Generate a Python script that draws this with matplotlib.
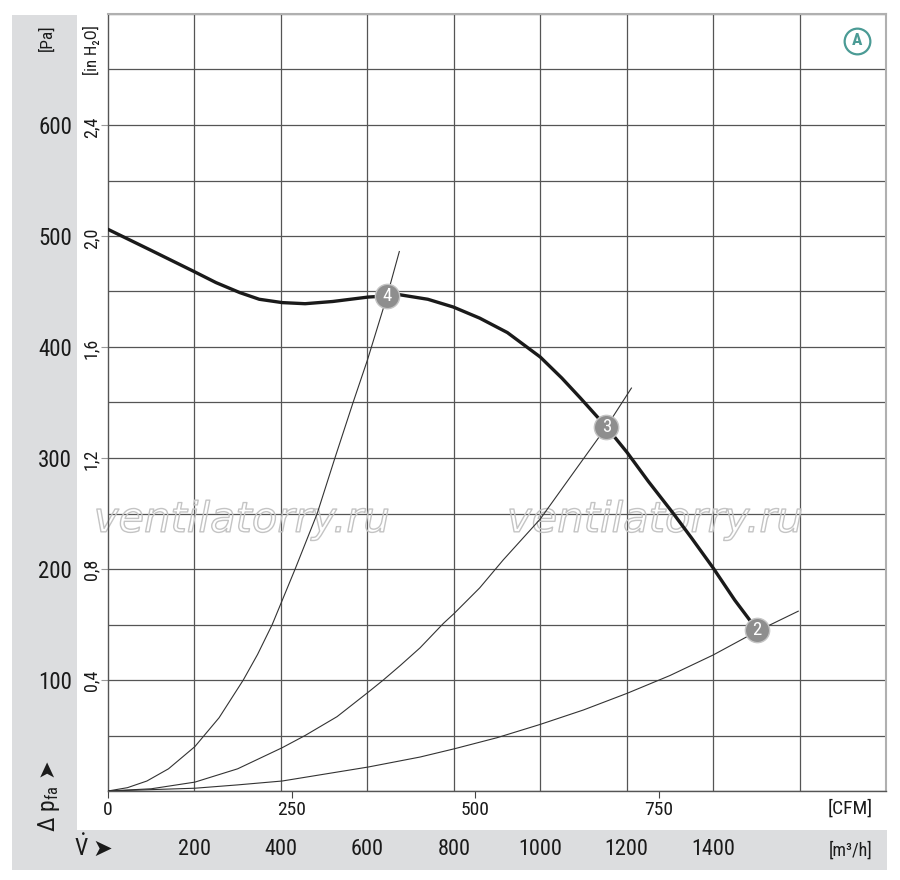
import matplotlib
matplotlib.use("Agg")
import matplotlib.pyplot as plt
import matplotlib.patheffects as pe
from matplotlib import font_manager, transforms
from matplotlib.patches import Rectangle
import numpy as np

# fan curve (m3/h, Pa)
fan_v = [0, 100, 199, 250, 305, 350, 403, 456, 520, 602, 646, 676, 740, 799, 860,
         924, 1000, 1050, 1093, 1153, 1201, 1250, 1308, 1350, 1400, 1450, 1502]
fan_p = [506, 487, 468, 458, 449, 443, 440, 439, 441, 445, 446, 447, 443, 436, 426,
         413, 391, 372, 354, 328, 305, 279, 250, 228, 201, 172, 145]

# system curves
sys4_v = [0, 45, 90, 140, 201, 257, 313, 346, 380, 433, 484, 525, 567, 600, 645, 674]
sys4_p = [0, 3, 9, 20, 40, 66, 100, 123, 150, 200, 250, 300, 350, 388, 445, 486]
sys3_v = [0, 100, 201, 300, 403, 456, 530, 602, 637, 676, 722, 776, 801, 860, 914,
          1000, 1081, 1153, 1211]
sys3_p = [0, 2, 8, 20, 39, 50, 67, 89, 100, 113, 129, 151, 160, 183, 208,
          245, 289, 328, 363]
sys2_v = [0, 201, 300, 403, 602, 722, 801, 900, 1000, 1100, 1201, 1300, 1400, 1502, 1597]
sys2_p = [0, 2.5, 5.5, 9, 21.6, 30.6, 38, 48, 60, 73, 88, 104, 122.5, 144, 162]

# operating points
op_v = [1502, 1153, 645]
op_p = [145, 328, 446]
op_labels = ["2", "3", "4"]

pa_ticks = [100, 200, 300, 400, 500, 600]
inh2o_ticks = [0.4, 0.8, 1.2, 1.6, 2.0, 2.4]
cfm_ticks = [0, 250, 500, 750]
m3h_ticks = [200, 400, 600, 800, 1000, 1200, 1400]

W, H = 900, 880

# look for a narrow face, else fall back
fonts = font_manager.fontManager.ttflist
names = {f.name for f in fonts}
stretch = "normal"
narrow = "Liberation Sans"
for cand in ["Liberation Sans Narrow", "Roboto Condensed", "Open Sans Condensed",
             "DejaVu Sans Condensed"]:
    if cand in names:
        narrow = cand
        break
else:
    if any(f.name == "DejaVu Sans" and f.stretch in ("condensed", 300) for f in fonts):
        narrow = "DejaVu Sans"
        stretch = "condensed"

plt.rcParams["font.family"] = [narrow, "DejaVu Sans"]
plt.rcParams["font.stretch"] = stretch
plt.rcParams["mathtext.fontset"] = "custom"
plt.rcParams["mathtext.rm"] = narrow
plt.rcParams["mathtext.it"] = narrow + ":italic"
plt.rcParams["mathtext.bf"] = narrow + ":bold"

txt = "#1a1a1a"
band = "#dcdddf"
teal = "#4b9b95"

fig = plt.figure(figsize=(W / 100, H / 100), dpi=100)


def fx(x):
    return x / W


def fy(y):
    return 1 - y / H


# grey bands, kept behind everything
fig.patches.append(Rectangle((fx(12), fy(870)), 65 / W, 855 / H, transform=fig.transFigure,
                             facecolor=band, edgecolor="none", zorder=-5))
fig.patches.append(Rectangle((fx(12), fy(870)), 875 / W, 40 / H, transform=fig.transFigure,
                             facecolor=band, edgecolor="none", zorder=-5))

ax = fig.add_axes([fx(108), fy(791), 778 / W, 777 / H])
ax.set_xlim(0, 1800)
ax.set_ylim(0, 700)

# grid
ax.set_xticks(np.arange(0, 1801, 200), minor=True)
ax.set_yticks(np.arange(0, 701, 50), minor=True)
ax.grid(True, which="minor", axis="x", color="#555555", lw=0.9)
ax.grid(True, which="both", axis="y", color="#555555", lw=0.9)
ax.set_axisbelow(True)
ax.tick_params(which="minor", length=0)

# CFM as the main x ticks
ax.set_xticks([c * 1.699 for c in cfm_ticks])
ax.set_xticklabels([str(c) for c in cfm_ticks], fontsize=14, color=txt)
ax.tick_params(axis="x", which="major", direction="out", length=5, width=0.8,
               color="#444444", pad=2.5)

# Pa as the main y ticks
ax.set_yticks(pa_ticks)
ax.set_yticklabels([str(p) for p in pa_ticks], fontsize=16.5, color=txt)
ax.tick_params(axis="y", which="major", direction="out", length=5, width=0.8,
               color="#999999", pad=21)

for s in ["left", "bottom"]:
    ax.spines[s].set_color("#555555")
    ax.spines[s].set_linewidth(1)
for s in ["top", "right"]:
    ax.spines[s].set_color("#b0b0b0")
    ax.spines[s].set_linewidth(1.5)

# watermark
for xa in [0.172, 0.703]:
    ax.text(xa, 0.349, "ventilatorry.ru", transform=ax.transAxes, ha="center", va="center",
            fontsize=30, family="DejaVu Sans", style="oblique", stretch="normal",
            color=(1, 1, 1, 0),
            path_effects=[pe.withStroke(linewidth=1.0, foreground="#c4c4c4")],
            zorder=1, clip_on=False)

# curves
ax.plot(sys4_v, sys4_p, color="#333333", lw=0.8, zorder=3)
ax.plot(sys3_v, sys3_p, color="#333333", lw=0.8, zorder=3)
ax.plot(sys2_v, sys2_p, color="#333333", lw=0.8, zorder=3)
ax.plot(fan_v, fan_p, color="#1a1a1a", lw=2.4, solid_capstyle="round",
        solid_joinstyle="round", zorder=4)

ax.plot(op_v, op_p, "o", ms=17.5, mfc="#8e8e8e", mec="#c4c4c4", mew=1, zorder=5)
for v, p, lab in zip(op_v, op_p, op_labels):
    ax.text(v, p, lab, ha="center", va="center", fontsize=13.5, color="white",
            zorder=6)

# A marker
ax.plot([0.9627], [0.9653], "o", transform=ax.transAxes, ms=18.5, mfc="white",
        mec=teal, mew=1.6, zorder=6, clip_on=False)
ax.text(0.9627, 0.9653, "A", transform=ax.transAxes, ha="center", va="center",
        fontsize=12.5, color=teal, fontweight="bold", zorder=7)

# in H2O labels (left, rotated)
left_blend = transforms.blended_transform_factory(fig.transFigure, ax.transData)
for t in inh2o_ticks:
    ax.text(fx(91), t * 249.09, f"{t:.1f}".replace(".", ","), transform=left_blend,
            rotation=90, ha="center", va="center", fontsize=13, color=txt)

fig.text(fx(91), fy(50), "[in H\u2082O]", rotation=90, ha="center", va="center",
         fontsize=12, color=txt)
fig.text(fx(47), fy(38), "[Pa]", rotation=90, ha="center", va="center",
         fontsize=12.5, color=txt)
fig.text(fx(49), fy(809), r"$\Delta\ \mathrm{p}_{\mathrm{fa}}$", rotation=90, ha="center",
         va="center", fontsize=17, color=txt)
fig.text(fx(46), fy(768), "\u27a4", rotation=90, ha="center", va="center",
         fontsize=16, color=txt, family="DejaVu Sans", stretch="normal")

# m3/h labels in the bottom band
bot_blend = transforms.blended_transform_factory(ax.transData, fig.transFigure)
for m in m3h_ticks:
    ax.text(m, fy(849.5), str(m), transform=bot_blend, ha="center", va="center",
            fontsize=16, color=txt)
fig.text(fx(81.5), fy(848), r"$\dot{\mathrm{V}}$", ha="center", va="center",
         fontsize=17, color=txt)
fig.text(fx(102), fy(849), "\u27a4", ha="center", va="center", fontsize=17,
         color=txt, family="DejaVu Sans", stretch="normal")
fig.text(fx(872), fy(851), "[m\u00b3/h]", ha="right", va="center", fontsize=13, color=txt)
fig.text(fx(873), fy(809), "[CFM]", ha="right", va="center", fontsize=14, color=txt)

fig.savefig("out.png", dpi=100)
